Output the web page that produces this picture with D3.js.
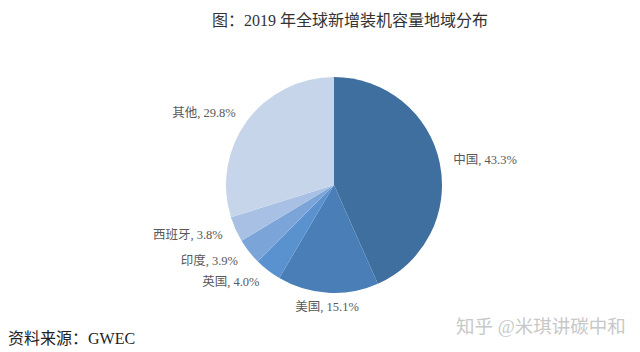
<!DOCTYPE html>
<html>
<head>
<meta charset="utf-8">
<script src="https://cdn.jsdelivr.net/npm/d3@7"></script>
<style>
  body { margin: 0; background: #fff; }
  text { font-family: "Liberation Serif", "Noto Sans CJK SC", serif; }
</style>
</head>
<body>
<div id="chart"></div>
<script>
var w = 640;
var h = 352;

var regions = ["中国", "美国", "英国", "印度", "西班牙", "其他"];
var shares = [43.3, 15.1, 4.0, 3.9, 3.8, 29.8];
var colors = ["#3f6f9f", "#4a7eb6", "#5a92cf", "#7ba5d9", "#a7c0e3", "#c7d5ea"];

var title = "图：2019 年全球新增装机容量地域分布";
var source = "资料来源：GWEC";
var mark = "知乎 @米琪讲碳中和";

var cx = 334, cy = 185, r = 108;

var dataset = regions.map(function(d, i) {
    return { name: d, value: shares[i], color: colors[i] };
});

var svg = d3.select("#chart")
    .append("svg")
    .attr("width", w)
    .attr("height", h);

svg.append("text")
    .attr("x", 350)
    .attr("y", 26)
    .attr("text-anchor", "middle")
    .attr("font-size", 16)
    .attr("fill", "#333")
    .text(title);

var pie = d3.pie()
    .sort(null)
    .value(function(d) { return d.value; });

var arc = d3.arc()
    .innerRadius(0)
    .outerRadius(r);

var labelArc = d3.arc()        // labels sit just outside the pie
    .innerRadius(r + 14)
    .outerRadius(r + 14);

var g = svg.append("g")
    .attr("transform", "translate(" + cx + "," + cy + ")");

var arcs = pie(dataset);

g.selectAll("path")
    .data(arcs)
    .enter()
    .append("path")
    .attr("d", arc)
    .attr("fill", function(d) { return d.data.color; });

g.selectAll("text.lbl")
    .data(arcs)
    .enter()
    .append("text")
    .attr("class", "lbl")
    .attr("x", function(d) { return labelArc.centroid(d)[0]; })
    .attr("y", function(d) { return labelArc.centroid(d)[1]; })
    .attr("dy", "0.35em")
    .attr("text-anchor", function(d) {
        var m = (d.startAngle + d.endAngle) / 2;
        if (Math.abs(m - Math.PI) < 0.3) return "middle";
        return m < Math.PI ? "start" : "end";
    })
    .attr("font-size", 12.5)
    .attr("fill", "#595959")
    .text(function(d) { return d.data.name + ", " + d3.format(".1f")(d.data.value) + "%"; });

svg.append("text")
    .attr("x", 8)
    .attr("y", 344)
    .attr("font-size", 16)
    .attr("fill", "#222")
    .text(source);

svg.append("text")
    .attr("x", 456)
    .attr("y", 333)
    .attr("font-size", 18.5)
    .attr("fill", "#c8c8c8")
    .attr("font-family", "Noto Sans CJK SC")
    .text(mark);
</script>
</body>
</html>
